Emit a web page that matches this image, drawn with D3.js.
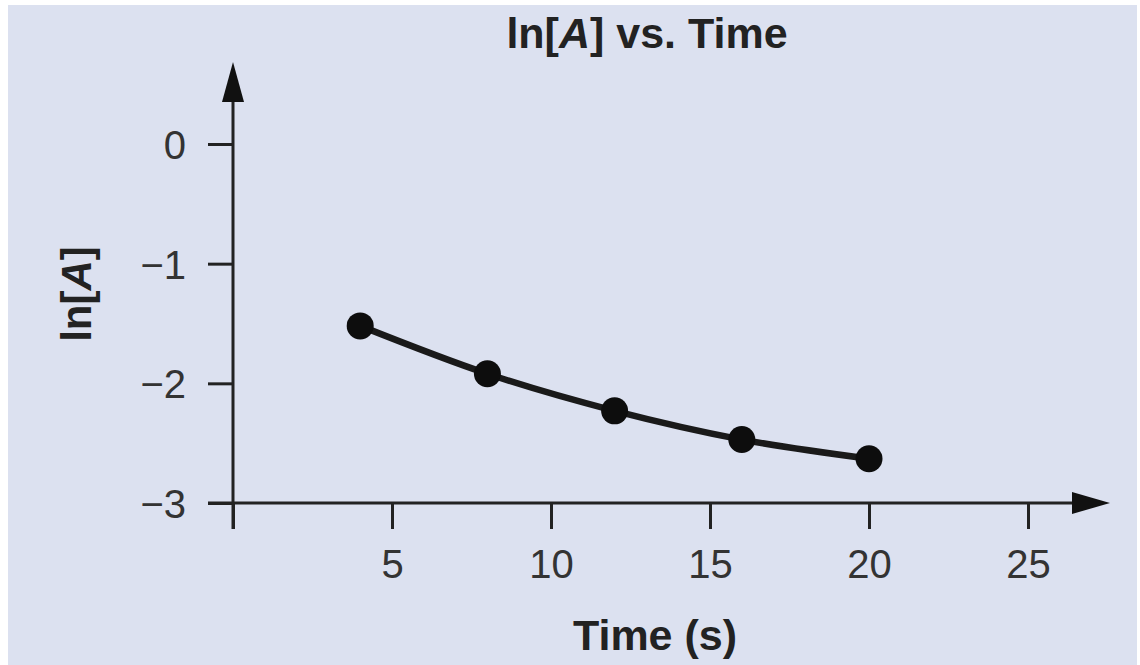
<!DOCTYPE html>
<html>
<head>
<meta charset="utf-8">
<script src="https://cdn.jsdelivr.net/npm/d3@7"></script>
<style>
  html, body { margin: 0; padding: 0; background: #ffffff; }
  svg { display: block; }
  text { font-family: "Liberation Sans", Arial, Helvetica, sans-serif; }
</style>
</head>
<body>
<svg id="chart" width="1140" height="665"></svg>
<script>
// Time points (s) and measured ln[A]
const times = [4, 8, 12, 16, 20];
const lnA = [-1.52, -1.92, -2.23, -2.47, -2.63];

// Axis ticks
const xTicks = [0, 5, 10, 15, 20, 25];
const xTickLabels = ["", "5", "10", "15", "20", "25"];
const yTicks = [0, -1, -2, -3];
const yTickLabels = ["0", "\u22121", "\u22122", "\u22123"];

const W = 1140, H = 665;
const ink = "#222";
const textInk = "#333";

const svg = d3.select("#chart");

// panel background
svg.append("rect")
  .attr("x", 8).attr("y", 5)
  .attr("width", 1129).attr("height", H - 5)
  .attr("fill", "#dce1f0");

const x = d3.scaleLinear().domain([0, 25]).range([233, 1028]);
const y = d3.scaleLinear().domain([-3, 0]).range([503, 144]);

// y axis ticks and labels
const yAxis = d3.axisLeft(y)
  .tickValues(yTicks)
  .tickSize(25)
  .tickSizeOuter(0)
  .tickPadding(22)
  .tickFormat((d, i) => yTickLabels[i]);

const gy = svg.append("g")
  .attr("transform", `translate(${x(0)},0)`)
  .call(yAxis);
gy.select(".domain").remove();
gy.selectAll(".tick line").attr("stroke", ink).attr("stroke-width", 3);
gy.selectAll(".tick text")
  .attr("fill", textInk)
  .style("font-size", "40px")
  .attr("dy", "0.36em");

// x axis ticks and labels
const xAxis = d3.axisBottom(x)
  .tickValues(xTicks)
  .tickSize(26)
  .tickSizeOuter(0)
  .tickPadding(21)
  .tickFormat((d, i) => xTickLabels[i]);

const gx = svg.append("g")
  .attr("transform", `translate(0,${y(-3)})`)
  .call(xAxis);
gx.select(".domain").remove();
gx.selectAll(".tick line").attr("stroke", ink).attr("stroke-width", 3);
gx.selectAll(".tick text")
  .attr("fill", textInk)
  .style("font-size", "40px")
  .attr("dy", "0.71em");

// axis lines with arrowheads
svg.append("line")
  .attr("x1", x(0)).attr("y1", y(-3) + 26)
  .attr("x2", x(0)).attr("y2", 95)
  .attr("stroke", ink).attr("stroke-width", 3);
svg.append("path")
  .attr("d", `M${x(0)},62 L${x(0) + 11},102 L${x(0) - 11},102 Z`)
  .attr("fill", "#111");

svg.append("line")
  .attr("x1", x(0) - 25).attr("y1", y(-3))
  .attr("x2", 1080).attr("y2", y(-3))
  .attr("stroke", ink).attr("stroke-width", 3);
svg.append("path")
  .attr("d", `M1110,${y(-3)} L1072,${y(-3) - 11} L1072,${y(-3) + 11} Z`)
  .attr("fill", "#111");

// data curve
const pts = times.map((t, i) => [t, lnA[i]]);
const line = d3.line()
  .x(d => x(d[0]))
  .y(d => y(d[1]))
  .curve(d3.curveMonotoneX);

svg.append("path")
  .datum(pts)
  .attr("d", line)
  .attr("fill", "none")
  .attr("stroke", "#1a1a1a")
  .attr("stroke-width", 6.5)
  .attr("stroke-linecap", "round");

svg.selectAll("circle.pt")
  .data(pts)
  .enter().append("circle")
  .attr("class", "pt")
  .attr("cx", d => x(d[0]))
  .attr("cy", d => y(d[1]))
  .attr("r", 13.5)
  .attr("fill", "#0d0d0d");

// title
const title = svg.append("text")
  .attr("x", 647).attr("y", 48)
  .attr("text-anchor", "middle")
  .attr("fill", ink)
  .style("font-size", "43px")
  .style("font-weight", "bold");
title.append("tspan").text("ln[");
title.append("tspan").style("font-style", "italic").text("A");
title.append("tspan").text("] vs. Time");

// x axis title
svg.append("text")
  .attr("x", 655).attr("y", 650)
  .attr("text-anchor", "middle")
  .attr("fill", ink)
  .style("font-size", "43px")
  .style("font-weight", "bold")
  .text("Time (s)");

// y axis title
const ylab = svg.append("text")
  .attr("transform", "translate(91,294) rotate(-90)")
  .attr("text-anchor", "middle")
  .attr("fill", ink)
  .style("font-size", "42px")
  .style("font-weight", "bold");
ylab.append("tspan").text("ln[");
ylab.append("tspan").style("font-style", "italic").text("A");
ylab.append("tspan").text("]");
</script>
</body>
</html>
